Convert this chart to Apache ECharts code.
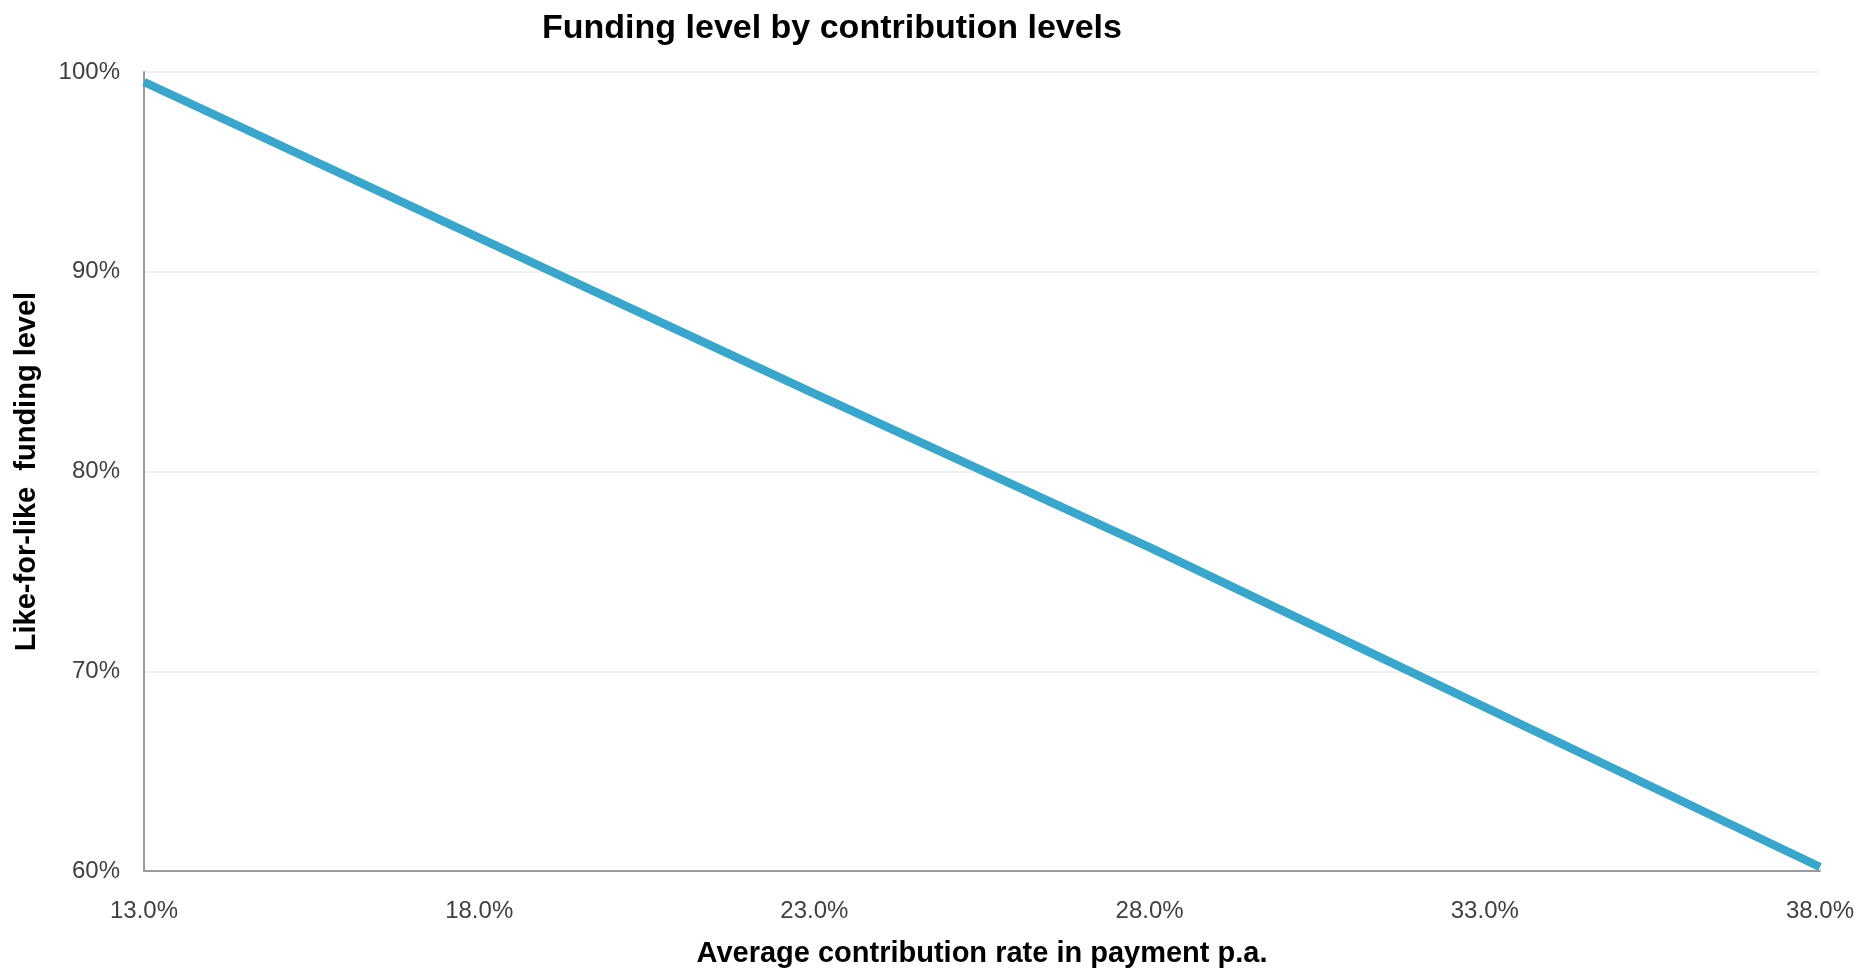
<!DOCTYPE html>
<html>
<head>
<meta charset="utf-8">
<script src="https://cdn.jsdelivr.net/npm/echarts@6/dist/echarts.min.js"></script>
<style>
  html, body { margin: 0; padding: 0; background: #fff; }
  #chart { width: 1864px; height: 970px; }
</style>
</head>
<body>
<div id="chart"></div>
<script>
// contribution rate (x axis categories)
const rates = ['13.0%', '18.0%', '23.0%', '28.0%', '33.0%', '38.0%']
// like-for-like funding level, in %
const fundingLevel = [99.5, 91.7, 83.9, 76.2, 68.2, 60.2]
const yTicks = [60, 70, 80, 90, 100]

const chart = echarts.init(document.getElementById('chart'))
const font = 'Liberation Sans, Arial, sans-serif'

const option = {
  animation: false,
  title: {
    text: 'Funding level by contribution levels',
    left: 827,
    top: 7,
    textAlign: 'center',
    textStyle: {
      fontFamily: font,
      fontWeight: 'bold',
      fontSize: 34,
      color: '#000'
    }
  },
  grid: {
    left: 144,
    right: 44,
    top: 72,
    bottom: 99,
    outerBoundsMode: 'none'
  },
  xAxis: {
    type: 'category',
    data: rates,
    boundaryGap: false,
    name: 'Average contribution rate in payment p.a.',
    nameLocation: 'middle',
    nameGap: 68,
    nameTextStyle: {
      fontFamily: font,
      fontWeight: 'bold',
      fontSize: 29,
      color: '#000'
    },
    axisLine: { lineStyle: { color: '#9a9a9a', width: 2 } },
    axisTick: { show: false },
    axisLabel: {
      margin: 28,
      fontFamily: font,
      fontSize: 24,
      color: '#404040'
    },
    splitLine: { show: false }
  },
  yAxis: {
    type: 'value',
    min: yTicks[0],
    max: yTicks[yTicks.length - 1],
    interval: 10,
    name: 'Like-for-like  funding level',
    nameLocation: 'middle',
    nameGap: 103,
    nameTextStyle: {
      fontFamily: font,
      fontWeight: 'bold',
      fontSize: 29,
      color: '#000'
    },
    axisLine: { show: true, lineStyle: { color: '#9a9a9a', width: 2 } },
    axisTick: { show: false },
    axisLabel: {
      margin: 24,
      padding: [5, 0, 0, 0],
      fontFamily: font,
      fontSize: 24,
      color: '#404040',
      formatter: '{value}%'
    },
    splitLine: { lineStyle: { color: '#ececec', width: 1.5 } }
  },
  series: [
    {
      type: 'line',
      data: fundingLevel,
      symbol: 'none',
      lineStyle: { color: '#3aa6cc', width: 8.5 }
    }
  ]
}
chart.setOption(option)
</script>
</body>
</html>
